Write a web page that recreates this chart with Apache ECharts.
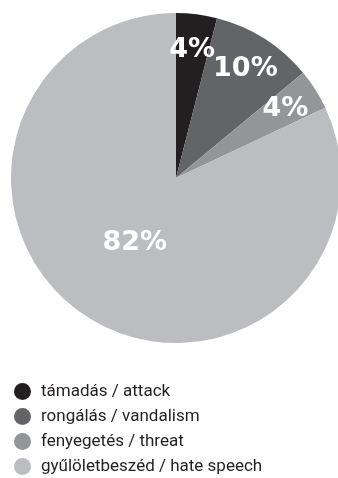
<!DOCTYPE html>
<html><head><meta charset="utf-8">
<script src="https://cdn.jsdelivr.net/npm/echarts@6/dist/echarts.min.js"></script>
<style>html,body{margin:0;padding:0;background:#fff}#c{width:338px;height:478px}</style>
</head><body><div id="c"></div>
<script>
var categories = ['támadás / attack', 'rongálás / vandalism', 'fenyegetés / threat', 'gyűlöletbeszéd / hate speech'];
var values = [4, 10, 4, 82];
var labels = ['4%', '10%', '4%', '82%'];
var colors = ['#231f20', '#636466', '#939598', '#bcbdc0'];

var chart = echarts.init(document.getElementById('c'));
var center = [176, 178];
function mk(showFn, color) {
  return categories.map(function (n, i) {
    return {
      name: n, value: values[i],
      itemStyle: { color: color || colors[i] },
      label: { show: showFn ? showFn(i) : false }
    };
  });
}
var labelStyle = {
  position: 'inside',
  formatter: function (p) { return labels[p.dataIndex]; },
  color: '#ffffff',
  fontFamily: 'DejaVu Sans',
  fontWeight: 'bold',
  fontSize: 27
};
chart.setOption({
  animation: false,
  legend: {
    orient: 'vertical',
    left: 14, top: 383, padding: 0,
    icon: 'circle',
    itemWidth: 17, itemHeight: 17, itemGap: 8,
    data: categories,
    textStyle: { fontFamily: 'Roboto', fontSize: 17, color: '#231f20', padding: [0, 0, 0, 5] },
    selectedMode: false
  },
  series: [
    {
      type: 'pie', center: center, radius: [0, 165], startAngle: 90, clockwise: true,
      label: { show: false }, labelLine: { show: false }, silent: true,
      data: mk(null)
    },
    {
      type: 'pie', center: center, radius: [88, 165], startAngle: 90, clockwise: true,
      avoidLabelOverlap: false, labelLayout: { hideOverlap: false },
      label: labelStyle, labelLine: { show: false }, silent: true, legendHoverLink: false,
      data: mk(function (i) { return i < 3; }, 'rgba(0,0,0,0)')
    },
    {
      type: 'pie', center: center, radius: [0, 148], startAngle: 90, clockwise: true,
      avoidLabelOverlap: false, labelLayout: { hideOverlap: false },
      label: labelStyle, labelLine: { show: false }, silent: true, legendHoverLink: false,
      data: mk(function (i) { return i === 3; }, 'rgba(0,0,0,0)')
    }
  ]
});
</script></body></html>
